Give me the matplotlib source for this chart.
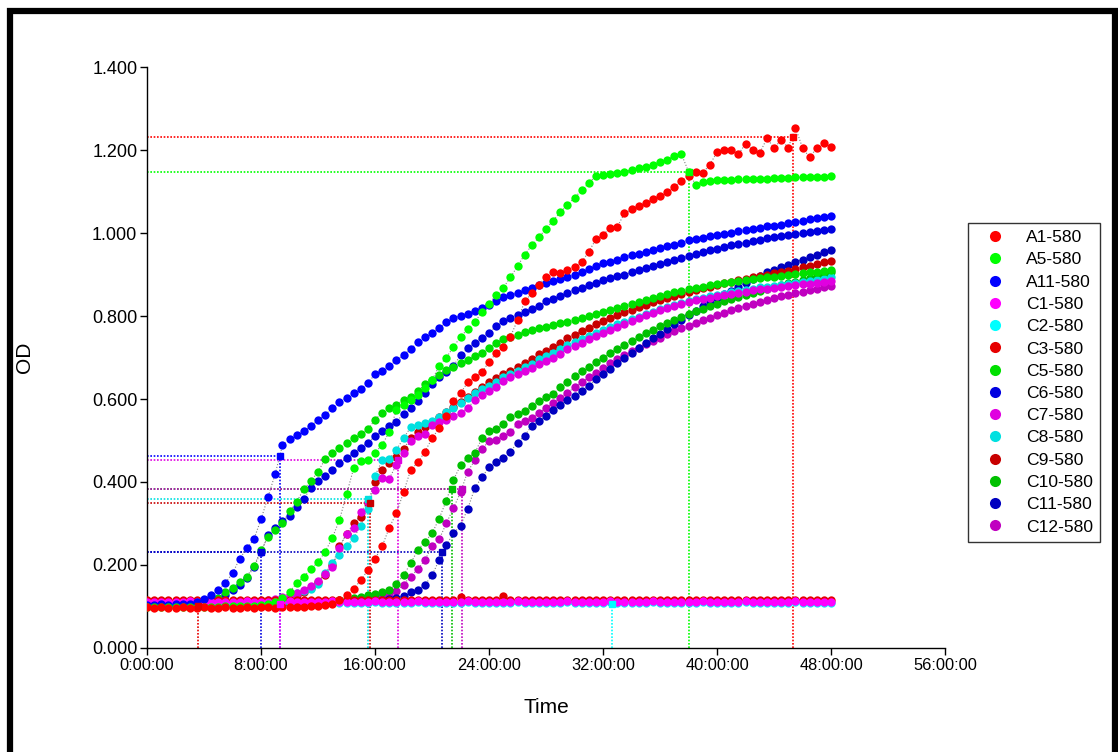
import numpy as np
import matplotlib
matplotlib.use("Agg")
import matplotlib.pyplot as plt
from matplotlib.lines import Line2D
from matplotlib.patches import Rectangle

plt.rcParams['font.family'] = ['Liberation Sans', 'DejaVu Sans']

# readings every 30 min, 0 h .. 48 h (97 points per well)
hours = np.arange(97) * 0.5

A1 = [0.098, 0.097, 0.098, 0.097, 0.097, 0.098, 0.097, 0.097, 0.098, 0.097,
      0.097, 0.098, 0.097, 0.097, 0.098, 0.097, 0.098, 0.098, 0.097, 0.098,
      0.098, 0.098, 0.099, 0.100, 0.101, 0.103, 0.106, 0.115, 0.127, 0.143,
      0.163, 0.188, 0.215, 0.245, 0.290, 0.325, 0.375, 0.429, 0.447, 0.473,
      0.505, 0.530, 0.560, 0.594, 0.614, 0.640, 0.652, 0.664, 0.690, 0.710,
      0.726, 0.750, 0.790, 0.835, 0.855, 0.875, 0.895, 0.905, 0.903, 0.912,
      0.918, 0.930, 0.955, 0.985, 0.996, 1.012, 1.015, 1.047, 1.057, 1.065,
      1.072, 1.082, 1.090, 1.100, 1.112, 1.125, 1.138, 1.148, 1.145, 1.165,
      1.195, 1.200, 1.200, 1.190, 1.215, 1.200, 1.193, 1.228, 1.205, 1.224,
      1.206, 1.254, 1.205, 1.182, 1.205, 1.216, 1.207]
A5 = [0.099, 0.098, 0.098, 0.099, 0.098, 0.098, 0.099, 0.098, 0.099, 0.099,
      0.099, 0.100, 0.100, 0.100, 0.101, 0.102, 0.104, 0.107, 0.112, 0.120,
      0.135, 0.156, 0.172, 0.190, 0.207, 0.232, 0.265, 0.308, 0.370, 0.433,
      0.450, 0.453, 0.470, 0.490, 0.520, 0.573, 0.585, 0.598, 0.610, 0.627,
      0.645, 0.680, 0.700, 0.725, 0.750, 0.768, 0.785, 0.810, 0.830, 0.850,
      0.868, 0.893, 0.920, 0.948, 0.970, 0.990, 1.010, 1.030, 1.050, 1.068,
      1.085, 1.103, 1.120, 1.138, 1.140, 1.143, 1.145, 1.148, 1.152, 1.156,
      1.160, 1.165, 1.170, 1.176, 1.186, 1.190, 1.148, 1.116, 1.122, 1.125,
      1.127, 1.127, 1.128, 1.129, 1.130, 1.130, 1.131, 1.131, 1.132, 1.132,
      1.133, 1.134, 1.134, 1.135, 1.136, 1.136, 1.137]
A11 = [0.104, 0.104, 0.105, 0.104, 0.105, 0.106, 0.107, 0.110, 0.118, 0.128,
       0.140, 0.157, 0.180, 0.215, 0.240, 0.262, 0.310, 0.365, 0.420, 0.488,
       0.503, 0.513, 0.522, 0.535, 0.550, 0.562, 0.578, 0.593, 0.603, 0.615,
       0.625, 0.638, 0.660, 0.668, 0.680, 0.693, 0.707, 0.720, 0.737, 0.750,
       0.760, 0.772, 0.785, 0.795, 0.800, 0.806, 0.812, 0.820, 0.827, 0.835,
       0.845, 0.850, 0.855, 0.862, 0.868, 0.875, 0.880, 0.885, 0.890, 0.895,
       0.900, 0.907, 0.913, 0.920, 0.927, 0.930, 0.936, 0.942, 0.947, 0.950,
       0.955, 0.960, 0.965, 0.968, 0.972, 0.977, 0.983, 0.985, 0.988, 0.992,
       0.995, 0.998, 1.001, 1.004, 1.007, 1.010, 1.013, 1.016, 1.018, 1.020,
       1.024, 1.027, 1.030, 1.033, 1.036, 1.039, 1.041]
C1 = [0.112, 0.111, 0.112, 0.112, 0.111, 0.112, 0.113, 0.112, 0.111, 0.112,
      0.112, 0.112, 0.111, 0.112, 0.113, 0.112, 0.112, 0.111, 0.112, 0.112,
      0.113, 0.112, 0.112, 0.111, 0.112, 0.112, 0.113, 0.112, 0.112, 0.111,
      0.112, 0.112, 0.113, 0.112, 0.111, 0.112, 0.112, 0.112, 0.113, 0.112,
      0.112, 0.111, 0.112, 0.112, 0.112, 0.113, 0.112, 0.111, 0.112, 0.112,
      0.112, 0.112, 0.113, 0.112, 0.111, 0.112, 0.112, 0.112, 0.112, 0.113,
      0.112, 0.111, 0.112, 0.112, 0.112, 0.113, 0.112, 0.112, 0.111, 0.112,
      0.112, 0.113, 0.112, 0.112, 0.111, 0.112, 0.112, 0.112, 0.113, 0.112,
      0.111, 0.112, 0.112, 0.112, 0.113, 0.112, 0.112, 0.111, 0.112, 0.112,
      0.112, 0.113, 0.112, 0.111, 0.112, 0.112, 0.112]
C2 = [0.109, 0.108, 0.109, 0.109, 0.108, 0.109, 0.110, 0.109, 0.108, 0.109,
      0.109, 0.109, 0.108, 0.109, 0.110, 0.109, 0.109, 0.108, 0.109, 0.109,
      0.110, 0.109, 0.109, 0.108, 0.109, 0.109, 0.110, 0.109, 0.109, 0.108,
      0.109, 0.109, 0.110, 0.109, 0.108, 0.109, 0.109, 0.109, 0.110, 0.109,
      0.109, 0.108, 0.109, 0.109, 0.109, 0.110, 0.109, 0.108, 0.109, 0.109,
      0.109, 0.109, 0.110, 0.109, 0.108, 0.109, 0.109, 0.109, 0.109, 0.110,
      0.109, 0.108, 0.109, 0.109, 0.109, 0.110, 0.109, 0.109, 0.108, 0.109,
      0.109, 0.110, 0.109, 0.109, 0.108, 0.109, 0.109, 0.109, 0.110, 0.109,
      0.108, 0.109, 0.109, 0.109, 0.110, 0.109, 0.109, 0.108, 0.109, 0.109,
      0.109, 0.110, 0.109, 0.108, 0.109, 0.109, 0.109]
C3 = [0.115, 0.116, 0.115, 0.115, 0.116, 0.115, 0.115, 0.116, 0.115, 0.116,
      0.115, 0.115, 0.116, 0.115, 0.115, 0.116, 0.115, 0.116, 0.115, 0.115,
      0.116, 0.115, 0.115, 0.116, 0.115, 0.115, 0.116, 0.115, 0.116, 0.115,
      0.115, 0.116, 0.115, 0.115, 0.116, 0.115, 0.115, 0.116, 0.115, 0.115,
      0.116, 0.115, 0.115, 0.115, 0.124, 0.116, 0.115, 0.115, 0.116, 0.115,
      0.125, 0.115, 0.116, 0.115, 0.115, 0.116, 0.115, 0.115, 0.116, 0.115,
      0.115, 0.116, 0.115, 0.115, 0.116, 0.115, 0.116, 0.115, 0.115, 0.116,
      0.115, 0.115, 0.116, 0.115, 0.115, 0.116, 0.115, 0.116, 0.115, 0.115,
      0.116, 0.115, 0.115, 0.116, 0.115, 0.115, 0.116, 0.115, 0.115, 0.116,
      0.115, 0.116, 0.115, 0.115, 0.116, 0.115, 0.115]
C5 = [0.105, 0.105, 0.104, 0.105, 0.105, 0.106, 0.106, 0.107, 0.109, 0.112,
      0.120, 0.135, 0.145, 0.158, 0.172, 0.198, 0.235, 0.268, 0.285, 0.300,
      0.330, 0.352, 0.383, 0.402, 0.425, 0.455, 0.470, 0.482, 0.493, 0.505,
      0.515, 0.527, 0.550, 0.567, 0.578, 0.586, 0.598, 0.605, 0.620, 0.635,
      0.645, 0.658, 0.670, 0.678, 0.686, 0.695, 0.703, 0.712, 0.724, 0.735,
      0.745, 0.750, 0.755, 0.762, 0.766, 0.770, 0.774, 0.778, 0.782, 0.786,
      0.790, 0.795, 0.800, 0.805, 0.810, 0.815, 0.820, 0.825, 0.830, 0.834,
      0.838, 0.843, 0.847, 0.852, 0.857, 0.861, 0.865, 0.868, 0.871, 0.874,
      0.877, 0.880, 0.882, 0.885, 0.887, 0.889, 0.891, 0.893, 0.895, 0.897,
      0.899, 0.901, 0.903, 0.905, 0.907, 0.909, 0.911]
C6 = [0.104, 0.104, 0.104, 0.105, 0.105, 0.105, 0.106, 0.107, 0.108, 0.110,
      0.116, 0.128, 0.140, 0.152, 0.168, 0.195, 0.231, 0.272, 0.290, 0.305,
      0.318, 0.340, 0.360, 0.385, 0.402, 0.415, 0.430, 0.445, 0.458, 0.470,
      0.483, 0.495, 0.510, 0.522, 0.534, 0.545, 0.565, 0.578, 0.595, 0.615,
      0.635, 0.652, 0.665, 0.680, 0.705, 0.722, 0.735, 0.748, 0.760, 0.775,
      0.787, 0.795, 0.802, 0.810, 0.818, 0.825, 0.835, 0.842, 0.848, 0.855,
      0.862, 0.868, 0.874, 0.880, 0.886, 0.891, 0.896, 0.900, 0.905, 0.910,
      0.915, 0.920, 0.925, 0.930, 0.935, 0.940, 0.945, 0.950, 0.954, 0.958,
      0.962, 0.966, 0.970, 0.974, 0.977, 0.980, 0.984, 0.987, 0.990, 0.993,
      0.996, 0.998, 1.000, 1.003, 1.005, 1.007, 1.009]
C7 = [0.108, 0.108, 0.109, 0.108, 0.108, 0.109, 0.108, 0.109, 0.109, 0.108,
      0.109, 0.109, 0.110, 0.110, 0.111, 0.112, 0.113, 0.115, 0.118, 0.122,
      0.126, 0.132, 0.140, 0.150, 0.162, 0.178, 0.195, 0.242, 0.275, 0.290,
      0.328, 0.352, 0.380, 0.410, 0.408, 0.442, 0.470, 0.500, 0.510, 0.515,
      0.538, 0.545, 0.550, 0.558, 0.567, 0.578, 0.598, 0.610, 0.620, 0.630,
      0.643, 0.652, 0.660, 0.668, 0.675, 0.684, 0.692, 0.700, 0.708, 0.720,
      0.728, 0.736, 0.744, 0.752, 0.760, 0.767, 0.774, 0.781, 0.788, 0.795,
      0.802, 0.808, 0.814, 0.819, 0.824, 0.829, 0.834, 0.838, 0.841, 0.844,
      0.847, 0.850, 0.853, 0.856, 0.859, 0.862, 0.864, 0.866, 0.868, 0.870,
      0.872, 0.874, 0.876, 0.878, 0.880, 0.883, 0.885]
C8 = [0.107, 0.107, 0.108, 0.107, 0.108, 0.107, 0.108, 0.108, 0.108, 0.108,
      0.109, 0.109, 0.109, 0.110, 0.110, 0.111, 0.112, 0.114, 0.116, 0.120,
      0.124, 0.132, 0.137, 0.143, 0.155, 0.180, 0.205, 0.225, 0.245, 0.265,
      0.295, 0.335, 0.415, 0.452, 0.455, 0.478, 0.505, 0.532, 0.537, 0.541,
      0.546, 0.556, 0.568, 0.578, 0.590, 0.603, 0.614, 0.624, 0.632, 0.642,
      0.652, 0.660, 0.668, 0.676, 0.685, 0.696, 0.703, 0.712, 0.720, 0.730,
      0.738, 0.745, 0.752, 0.759, 0.766, 0.773, 0.780, 0.786, 0.792, 0.798,
      0.804, 0.810, 0.816, 0.821, 0.826, 0.831, 0.836, 0.840, 0.844, 0.847,
      0.851, 0.854, 0.857, 0.860, 0.863, 0.866, 0.869, 0.871, 0.873, 0.875,
      0.877, 0.879, 0.882, 0.885, 0.887, 0.890, 0.893]
C9 = [0.106, 0.106, 0.107, 0.106, 0.107, 0.106, 0.107, 0.107, 0.107, 0.108,
      0.108, 0.108, 0.109, 0.109, 0.110, 0.110, 0.111, 0.113, 0.115, 0.118,
      0.122, 0.128, 0.135, 0.145, 0.158, 0.175, 0.200, 0.245, 0.275, 0.300,
      0.315, 0.350, 0.400, 0.430, 0.445, 0.460, 0.480, 0.505, 0.520, 0.532,
      0.545, 0.556, 0.568, 0.580, 0.593, 0.606, 0.618, 0.630, 0.640, 0.650,
      0.660, 0.668, 0.677, 0.686, 0.697, 0.708, 0.716, 0.726, 0.736, 0.746,
      0.755, 0.764, 0.772, 0.780, 0.788, 0.795, 0.802, 0.809, 0.815, 0.821,
      0.827, 0.833, 0.839, 0.844, 0.849, 0.854, 0.859, 0.863, 0.867, 0.871,
      0.875, 0.879, 0.883, 0.886, 0.890, 0.893, 0.897, 0.900, 0.903, 0.906,
      0.909, 0.913, 0.917, 0.921, 0.925, 0.929, 0.932]
C10 = [0.105, 0.104, 0.105, 0.105, 0.104, 0.105, 0.105, 0.105, 0.106, 0.105,
       0.106, 0.105, 0.106, 0.106, 0.106, 0.107, 0.107, 0.107, 0.108, 0.108,
       0.108, 0.109, 0.109, 0.110, 0.111, 0.112, 0.113, 0.115, 0.118, 0.121,
       0.124, 0.128, 0.131, 0.135, 0.140, 0.155, 0.175, 0.204, 0.236, 0.256,
       0.276, 0.312, 0.355, 0.405, 0.440, 0.458, 0.470, 0.505, 0.522, 0.528,
       0.540, 0.557, 0.563, 0.572, 0.584, 0.596, 0.604, 0.613, 0.628, 0.641,
       0.655, 0.667, 0.678, 0.689, 0.700, 0.710, 0.720, 0.730, 0.740, 0.749,
       0.758, 0.766, 0.775, 0.783, 0.791, 0.798, 0.805, 0.812, 0.818, 0.824,
       0.830, 0.836, 0.841, 0.846, 0.851, 0.856, 0.861, 0.866, 0.871, 0.875,
       0.879, 0.883, 0.887, 0.892, 0.896, 0.900, 0.905]
C11 = [0.104, 0.104, 0.105, 0.104, 0.104, 0.105, 0.104, 0.105, 0.105, 0.105,
       0.105, 0.105, 0.105, 0.106, 0.106, 0.106, 0.106, 0.107, 0.107, 0.107,
       0.107, 0.108, 0.108, 0.108, 0.109, 0.109, 0.109, 0.110, 0.110, 0.111,
       0.112, 0.113, 0.114, 0.116, 0.118, 0.121, 0.126, 0.134, 0.140, 0.152,
       0.175, 0.212, 0.248, 0.276, 0.295, 0.335, 0.385, 0.412, 0.435, 0.447,
       0.457, 0.473, 0.495, 0.512, 0.535, 0.547, 0.560, 0.574, 0.586, 0.597,
       0.608, 0.620, 0.632, 0.648, 0.660, 0.673, 0.686, 0.698, 0.710, 0.722,
       0.734, 0.746, 0.757, 0.769, 0.780, 0.791, 0.802, 0.813, 0.823, 0.833,
       0.843, 0.852, 0.861, 0.870, 0.879, 0.888, 0.897, 0.905, 0.911, 0.917,
       0.923, 0.930, 0.936, 0.942, 0.948, 0.954, 0.960]
C12 = [0.107, 0.107, 0.108, 0.107, 0.107, 0.108, 0.107, 0.108, 0.108, 0.107,
       0.108, 0.108, 0.108, 0.109, 0.109, 0.109, 0.110, 0.110, 0.110, 0.111,
       0.111, 0.111, 0.112, 0.112, 0.113, 0.113, 0.114, 0.114, 0.115, 0.116,
       0.117, 0.118, 0.120, 0.123, 0.127, 0.137, 0.153, 0.172, 0.190, 0.212,
       0.245, 0.262, 0.300, 0.337, 0.375, 0.425, 0.452, 0.480, 0.498, 0.502,
       0.510, 0.520, 0.540, 0.548, 0.555, 0.567, 0.578, 0.590, 0.603, 0.615,
       0.628, 0.640, 0.652, 0.663, 0.675, 0.686, 0.696, 0.706, 0.715, 0.724,
       0.732, 0.740, 0.748, 0.756, 0.763, 0.770, 0.777, 0.784, 0.790, 0.796,
       0.802, 0.808, 0.814, 0.819, 0.824, 0.829, 0.834, 0.839, 0.843, 0.847,
       0.851, 0.855, 0.859, 0.863, 0.866, 0.869, 0.872]

names = ["A1-580", "A5-580", "A11-580", "C1-580", "C2-580", "C3-580", "C5-580",
         "C6-580", "C7-580", "C8-580", "C9-580", "C10-580", "C11-580", "C12-580"]
series = [A1, A5, A11, C1, C2, C3, C5, C6, C7, C8, C9, C10, C11, C12]
colors = ["#ff0000", "#00ff00", "#0000ff", "#ff00ff", "#00ffff", "#e60000", "#00e000",
          "#0000e0", "#e000e0", "#00e0e0", "#c80000", "#00c000", "#0000c0", "#c000c0"]

# threshold markers: (well index, time h, OD)
thr_well = [0, 1, 2, 3, 4, 5, 7, 8, 9, 10, 11, 12, 13]
thr_time = [45.35, 38.0, 9.3, 9.3, 32.65, 3.6, 8.0, 17.6, 15.5, 15.65, 21.4, 20.7, 22.1]
thr_od = [1.232, 1.147, 0.462, 0.105, 0.105, 0.100, 0.231, 0.454, 0.360, 0.350, 0.384, 0.231, 0.384]

fig = plt.figure(figsize=(11.18, 7.52), dpi=100)
ax = fig.add_axes([0.1315, 0.1383, 0.7138, 0.7726])

for w, t, v in zip(thr_well, thr_time, thr_od):
    c = colors[w]
    ax.hlines(v, 0, t, color=c, linestyle=(0, (1, 1)), lw=1.2, zorder=1)
    ax.vlines(t, 0, v, color=c, linestyle=(0, (1, 1)), lw=1.2, zorder=1)

n = len(series)
for i in range(n - 1, -1, -1):
    ax.plot(hours, series[i], linestyle=':', color='gray', lw=0.8, zorder=2 + (n - i) * 0.1)
    ax.plot(hours, series[i], 'o', color=colors[i], ms=6, mew=0, zorder=3 + (n - i) * 0.1)

for w, t, v in zip(thr_well, thr_time, thr_od):
    ax.plot([t], [v], 's', mfc=colors[w], mec=colors[w], ms=5, zorder=5)

ax.set_xlim(0, 56)
ax.set_ylim(0, 1.4)
ax.set_xticks(np.arange(0, 57, 8))
ax.set_xticklabels(["%d:00:00" % h for h in range(0, 57, 8)])
ax.set_yticks(np.arange(0, 1.41, 0.2))
ax.set_yticklabels(["%.3f" % v for v in np.arange(0, 1.41, 0.2)])
for s in ["top", "right"]:
    ax.spines[s].set_visible(False)
for s in ["left", "bottom"]:
    ax.spines[s].set_linewidth(1.0)
ax.tick_params(direction='out', length=5, width=1, pad=2)
ax.tick_params(axis='x', labelsize=11.8)
ax.tick_params(axis='y', labelsize=13)
ax.set_xlabel("Time", fontsize=15, labelpad=18)
ax.set_ylabel("OD", fontsize=15)
ax.yaxis.set_label_coords(-0.142, 0.5)

handles = [Line2D([], [], marker='o', linestyle='none', color=c, ms=8, mew=0) for c in colors]
leg = fig.legend(handles, names, loc='upper left', bbox_to_anchor=(968 / 1118, 1 - 223 / 752),
                 borderaxespad=0, fontsize=12.6, frameon=True, fancybox=False, edgecolor='black',
                 labelspacing=0.40, handlelength=2.3, handletextpad=0.62, borderpad=0.4)
leg.get_frame().set_linewidth(1.0)

fig.patches.append(Rectangle((10 / 1118, -0.02), 1105 / 1118, 1.02 - 10.5 / 752, fill=False,
                             edgecolor='black', lw=4.5, transform=fig.transFigure, figure=fig))

fig.savefig("out.png", dpi=100)
